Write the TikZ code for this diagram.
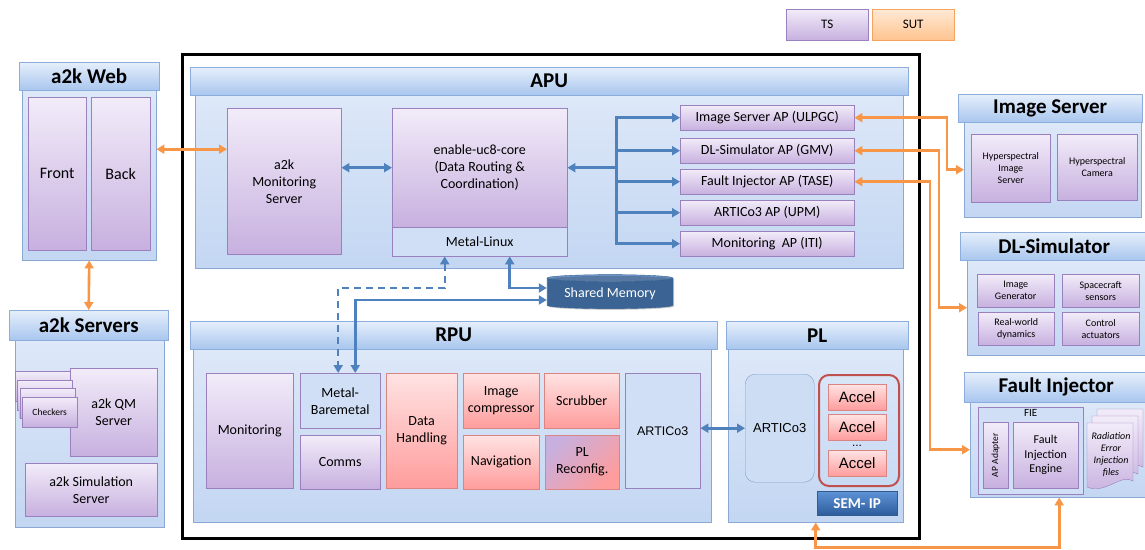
\documentclass[tikz,border=0pt]{standalone}
\usepackage{fontspec}
\usepackage{graphicx}
\setmainfont{Carlito}
\newfontfamily\arialfont{Liberation Sans}
\usetikzlibrary{arrows.meta,shapes.geometric,shadows}

\definecolor{hdrtop}{HTML}{E6EFFB}
\definecolor{hdrbot}{HTML}{A8C6EE}
\definecolor{hdrline}{HTML}{8DAEDC}
\definecolor{bodytop}{HTML}{DDE8F8}
\definecolor{bodybot}{HTML}{C3D6F2}
\definecolor{bodyline}{HTML}{8AA8D4}
\definecolor{tstop}{HTML}{F2ECF9}
\definecolor{tsbot}{HTML}{C7B0DF}
\definecolor{tsline}{HTML}{9B80BE}
\definecolor{redtop}{HTML}{FFE3E3}
\definecolor{redbot}{HTML}{FF9C9C}
\definecolor{redline}{HTML}{DA8582}
\definecolor{suttop}{HTML}{FFE9D6}
\definecolor{sutbot}{HTML}{FFC48F}
\definecolor{sutline}{HTML}{F5A35E}
\definecolor{linkblue}{HTML}{4F81BD}
\definecolor{linkorange}{HTML}{F79646}
\definecolor{grpred}{HTML}{C0504D}
\definecolor{artline}{HTML}{7EA1D0}
\definecolor{shmbody}{HTML}{4A7EBB}
\definecolor{shmend}{HTML}{6E98CC}
\definecolor{shmline}{HTML}{2F5B8E}
\definecolor{semtop}{HTML}{5F93D6}
\definecolor{sembot}{HTML}{2C5C9C}

\tikzset{
  wh/.style 2 args={anchor=north west, minimum width=#1pt, minimum height=#2pt, inner sep=1pt, align=center},
  shd/.style={drop shadow={shadow xshift=1.2pt,shadow yshift=-1.2pt,fill=black,opacity=0.2}},
  hdr/.style={shd, draw=hdrline, top color=hdrtop, bottom color=hdrbot, font=\fontsize{21}{24}\selectfont\bfseries},
  area/.style={shd, draw=bodyline, top color=bodytop, bottom color=bodybot},
  tsbox/.style={shd, draw=tsline, top color=tstop, bottom color=tsbot, font=\fontsize{14}{17}\selectfont},
  redbox/.style={shd, draw=redline, top color=redtop, bottom color=redbot, font=\fontsize{14}{17}\selectfont},
  swbox/.style={shd, draw=tsline, fill=bodytop!50!bodybot, font=\fontsize{14}{17}\selectfont},
  smalltxt/.style={font=\fontsize{10}{12}\selectfont},
  bluelink/.style={draw=linkblue, line width=2.6pt, <->},
  orangelink/.style={draw=linkorange, line width=2.6pt, <->},
}

\begin{document}
\begin{tikzpicture}[x=1pt,y=-1pt,>={Triangle[length=8pt,width=9pt]}]
\useasboundingbox (0,0) rectangle (1145,549);

\node[wh={82}{31},tsbox,font=\fontsize{13}{15}\selectfont] (key-ts) at (786,9) {TS};
\node[wh={82}{31},shd,draw=sutline,top color=suttop,bottom color=sutbot,font=\fontsize{13}{15}\selectfont] (key-sut) at (872,9) {SUT};

% a2k web and servers
\node[wh={134}{170},area] (web) at (22,90) {};
\node[wh={140}{28},hdr] (web-h) at (19,62) {a2k Web};
\node[wh={58}{153},tsbox,font=\fontsize{16}{19}\selectfont] (web-1) at (28,97) {Front};
\node[wh={59}{153},tsbox,font=\fontsize{16}{19}\selectfont] (web-2) at (91,97) {Back};

\node[wh={149}{187},area] (srv) at (15,340) {};
\node[wh={159}{30},hdr] (srv-h) at (9,310) {a2k Servers};
\node[wh={87}{88},tsbox] (srv-1) at (70,368) {a2k QM\\Server};
\foreach \x/\y [count=\i] in {15/371,17/380,19.5/388}
  \node[wh={55}{30},tsbox] (chk-\i) at (\x,\y) {};
\node[wh={55}{30},tsbox,font=\fontsize{9.5}{11}\selectfont] (chk-4) at (22,397) {Checkers};
\node[wh={132}{53},tsbox] (srv-2) at (25,463) {a2k Simulation\\Server};

\draw[line width=3pt] (182,54) rectangle (919,538);

% APU
\node[wh={708}{173},area] (apu) at (195,95) {};
\node[wh={718}{28},hdr] (apu-h) at (190,67) {APU};
\node[wh={114}{146},tsbox] (mon) at (227,108) {a2k\\Monitoring\\Server};
\node[wh={175}{119},tsbox] (core) at (392,108) {enable-uc8-core\\(Data Routing \&\\Coordination)};
\node[wh={175}{29},swbox] (linux) at (392,227) {Metal-Linux};
\foreach \y/\t [count=\i] in {105/Image Server AP (ULPGC),138/DL-Simulator AP (GMV),169/Fault Injector AP (TASE),200/ARTICo3 AP (UPM),231/Monitoring~~AP (ITI)}
  \node[wh={174}{25},tsbox] (ap-\i) at (680,\y) {\t};

\node[cylinder, shape border rotate=90, aspect=0.07, minimum width=126pt, minimum height=34pt, shd,
  draw=shmline, cylinder uses custom fill, cylinder body fill=shmbody, cylinder end fill=shmend,
  text=white, font=\fontsize{14}{17}\selectfont] (shm) at (610,294) {Shared Memory};

% RPU
\node[wh={518}{173},area] (rpu) at (193,349) {};
\node[wh={527}{28},hdr] (rpu-h) at (190,321) {RPU};
\node[wh={87}{115},tsbox] (rpu-1) at (206,373) {Monitoring};
\node[wh={80}{55},swbox] (rpu-2) at (300,373) {Metal-\\Baremetal};
\node[wh={80}{54},tsbox] (rpu-3) at (300,435) {Comms};
\node[wh={71}{115},redbox] (rpu-4) at (386,373) {Data\\Handling};
\node[wh={76}{55},redbox] (rpu-5) at (463,373) {Image\\compressor};
\node[wh={76}{54},redbox] (rpu-6) at (463,435) {Navigation};
\node[wh={75}{55},redbox] (rpu-7) at (544,373) {Scrubber};
\node[wh={74}{54},shd,draw=redline,top color=tsbot,middle color=white,bottom color=redbot,shading angle=45,
  font=\fontsize{14}{17}\selectfont] (rpu-8) at (545,435) {PL\\Reconfig.};
\node[wh={75}{115},swbox,font=\fontsize{12.5}{15}\arialfont] (rpu-9) at (625,373) {ARTICo3};

% PL
\node[wh={175}{173},area] (pl) at (728,349) {};
\node[wh={182}{28},hdr] (pl-h) at (726,321) {PL};
\node[wh={69}{108},draw=artline,fill=bodytop!40!bodybot,rounded corners=10pt,font=\fontsize{13}{15}\arialfont] (pl-1) at (745,374) {ARTICo3};
\node[wh={80}{111},draw=grpred,line width=2pt,rounded corners=10pt] (acc) at (818,374) {};
\foreach \y [count=\i] in {384,414,450}
  \node[wh={58}{26},redbox,font=\fontsize{15}{17}\arialfont] (acc-\i) at (828,\y) {Accel};
\node[inner sep=0pt,font=\fontsize{12}{13}\arialfont] (acc-dots) at (857,445.5) {...};
\node[wh={80}{24},shd,draw=shmline,top color=semtop,bottom color=sembot,text=white,font=\fontsize{15}{17}\selectfont\bfseries] (sem) at (817,491) {SEM- IP};

% image server, DL simulator, fault injector
\node[wh={177}{95},area] (isv) at (964,122) {};
\node[wh={184}{28},hdr] (isv-h) at (958,94) {Image Server};
\node[wh={79}{68},tsbox,smalltxt] (isv-1) at (971,134) {Hyperspectral\\Image\\Server};
\node[wh={80}{66},tsbox,smalltxt] (isv-2) at (1057,134) {Hyperspectral\\Camera};

\node[wh={180}{95},area] (dls) at (967,260) {};
\node[wh={188}{28},hdr] (dls-h) at (960,232) {DL-Simulator};
\node[wh={77}{33},tsbox,smalltxt] (dls-1) at (977,274) {Image\\Generator};
\node[wh={77}{33},tsbox,smalltxt] (dls-2) at (1062,274) {Spacecraft\\sensors};
\node[wh={76}{33},tsbox,smalltxt] (dls-3) at (978,312) {Real-world\\dynamics};
\node[wh={77}{33},tsbox,smalltxt] (dls-4) at (1062,312) {Control\\actuators};

\node[wh={178}{95},area] (fij) at (970,402) {};
\node[wh={184}{30},hdr] (fij-h) at (964,372) {Fault Injector};
\node[wh={105}{87},swbox,label={[anchor=north,inner sep=2pt,font=\fontsize{11}{12}\selectfont]north:FIE}] (fie) at (978,407) {};
\node[wh={25}{66},tsbox,font=\fontsize{9.5}{11}\selectfont] (fie-1) at (983,422) {\rotatebox{90}{AP Adapter}};
\node[wh={65}{66},tsbox,font=\fontsize{12}{14.5}\selectfont] (fie-2) at (1013,422) {Fault\\Injection\\Engine};
\foreach \x/\y in {1097/409,1092/416,1087/423}
  \draw[draw=tsline,top color=tstop,bottom color=tsbot] (\x,\y) -- (\x+46,\y) -- (\x+46,\y+58)
    .. controls (\x+34,\y+50) and (\x+18,\y+72) .. (\x,\y+64) -- cycle;
\node[align=center,font=\fontsize{10}{12}\selectfont\itshape] (rad) at (1111,455) {Radiation\\Error\\Injection\\files};

% links
\draw[orangelink] ([yshift=26pt]web.east) -- ([yshift=32pt]mon.west);
\draw[orangelink] (web.south) -- (srv-h.north);
\draw[bluelink] (mon.east |- core.west) -- (core.west);
\draw[bluelink,<-] (core.east) -- ++(49,0) coordinate (bus);
\draw[linkblue,line width=2.6pt,line cap=rect] (bus |- ap-1.west) -- (bus |- ap-5.west);
\foreach \i in {1,...,5}
  \draw[bluelink,->] (bus |- ap-\i.west) -- (ap-\i.west);
\draw[bluelink] ([xshift=30pt]linux.south) |- ([yshift=6pt]shm.west);
\draw[bluelink] ([yshift=-6pt]shm.west) -| ([xshift=15pt]rpu-2.north);
\draw[bluelink,line width=2pt,dash pattern=on 7pt off 5pt] ([xshift=-35pt]linux.south) -- ++(0,32) -| ([xshift=-2pt]rpu-2.north);
\draw[bluelink] (rpu-9.east |- pl-1.west) -- (pl-1.west);

\draw[orangelink] (ap-1.east) -| ([xshift=-17pt]isv.west) -- (isv.west);
\draw[orangelink] (ap-2.east) -| ([xshift=-28pt]dls.west) -- (dls.west);
\draw[orangelink] (ap-3.east) -| ([xshift=-40pt]fij.west) -- (fij.west);
\draw[orangelink] (fij.south) -- ++(0,50) -| (pl.south);
\end{tikzpicture}
\end{document}
